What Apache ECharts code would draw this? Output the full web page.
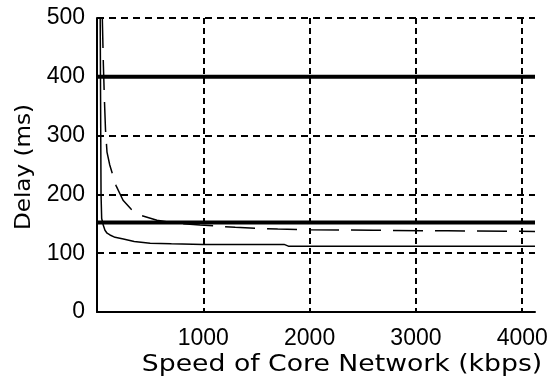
<!DOCTYPE html>
<html>
<head>
<meta charset="utf-8">
<script src="https://cdn.jsdelivr.net/npm/echarts@6/dist/echarts.min.js"></script>
<style>
  html, body { margin: 0; padding: 0; background: #fff; }
  #chart { width: 551px; height: 385px; }
</style>
</head>
<body>
<div id="chart"></div>
<script>
// Core network speed (kbps) vs delay (ms)
const xTicks = [1000, 2000, 3000, 4000];
const yTicks = [0, 100, 200, 300, 400, 500];

// Fixed delay bounds across the full speed range
const boundSpeeds = [0, 4120];
const upperBound = [400, 400];
const lowerBound = [152, 152];

// Dashed delay curve
const dashedSpeeds = [50, 60, 70, 80, 94, 120, 150, 179, 245, 320, 420, 564, 750, 969, 1300, 1700, 2000, 2600, 3300, 4120];
const dashedDelay  = [500, 420, 360, 310, 272, 250, 232, 215, 190, 175, 164, 156, 151, 148, 144, 141, 140, 139, 138, 137];

// Solid delay curve
const solidSpeeds = [30, 38, 44, 60, 75, 95, 122, 170, 248, 350, 500, 700, 1000, 1400, 1760, 1800, 2500, 3200, 4120];
const solidDelay  = [500, 200, 159, 147, 139, 134, 131, 127, 124, 120, 117, 116, 115, 115, 115, 112, 112, 112, 112];

const pairs = (xs, ys) => xs.map((x, i) => [x, ys[i]]);

const chart = echarts.init(document.getElementById('chart'), null, { renderer: 'canvas' });

const tickFont = { fontFamily: 'Liberation Sans', fontSize: 23, color: '#000' };

chart.setOption({
  backgroundColor: '#fff',
  animation: false,
  grid: { left: 97, right: 16, top: 18, bottom: 73 },
  xAxis: {
    type: 'value',
    min: 0,
    max: 4120,
    interval: 1000,
    axisLine: { show: true, lineStyle: { color: '#000', width: 2 } },
    axisTick: { show: false },
    axisLabel: Object.assign({
      margin: 15,
      showMaxLabel: false,
      formatter: v => (xTicks.indexOf(v) >= 0 ? String(v) : '')
    }, tickFont),
    splitLine: {
      show: true,
      showMinLine: false,
      showMaxLine: false,
      lineStyle: { color: '#000', width: 2, type: [6, 4] }
    }
  },
  yAxis: {
    type: 'value',
    min: 0,
    max: 500,
    interval: 100,
    axisLine: { show: true, lineStyle: { color: '#000', width: 2 } },
    axisTick: { show: false },
    axisLabel: Object.assign({
      margin: 12,
      formatter: v => (yTicks.indexOf(v) >= 0 ? String(v) : '')
    }, tickFont),
    splitLine: {
      show: true,
      showMinLine: false,
      lineStyle: { color: '#000', width: 2, type: [7, 5] }
    }
  },
  graphic: [
    {
      type: 'text',
      x: 342, y: 365,
      scaleX: 1.16,
      style: {
        text: 'Speed of Core Network (kbps)',
        font: '23px "DejaVu Sans"',
        fill: '#000',
        align: 'center',
        verticalAlign: 'middle'
      }
    },
    {
      type: 'text',
      x: 25, y: 167,
      rotation: Math.PI / 2,
      scaleX: 1.1,
      style: {
        text: 'Delay (ms)',
        font: '21px "DejaVu Sans"',
        fill: '#000',
        align: 'center',
        verticalAlign: 'middle'
      }
    }
  ],
  series: [
    {
      type: 'line',
      name: 'upper bound',
      data: pairs(boundSpeeds, upperBound),
      showSymbol: false,
      lineStyle: { color: '#000', width: 4 },
      z: 5
    },
    {
      type: 'line',
      name: 'lower bound',
      data: pairs(boundSpeeds, lowerBound),
      showSymbol: false,
      lineStyle: { color: '#000', width: 4 },
      z: 5
    },
    {
      type: 'line',
      name: 'dashed delay',
      data: pairs(dashedSpeeds, dashedDelay),
      showSymbol: false,
      clip: true,
      lineStyle: { color: '#000', width: 1.5, type: [30, 12] },
      z: 4
    },
    {
      type: 'line',
      name: 'solid delay',
      data: pairs(solidSpeeds, solidDelay),
      showSymbol: false,
      clip: true,
      lineStyle: { color: '#000', width: 1.5 },
      z: 4
    }
  ]
});
</script>
</body>
</html>
